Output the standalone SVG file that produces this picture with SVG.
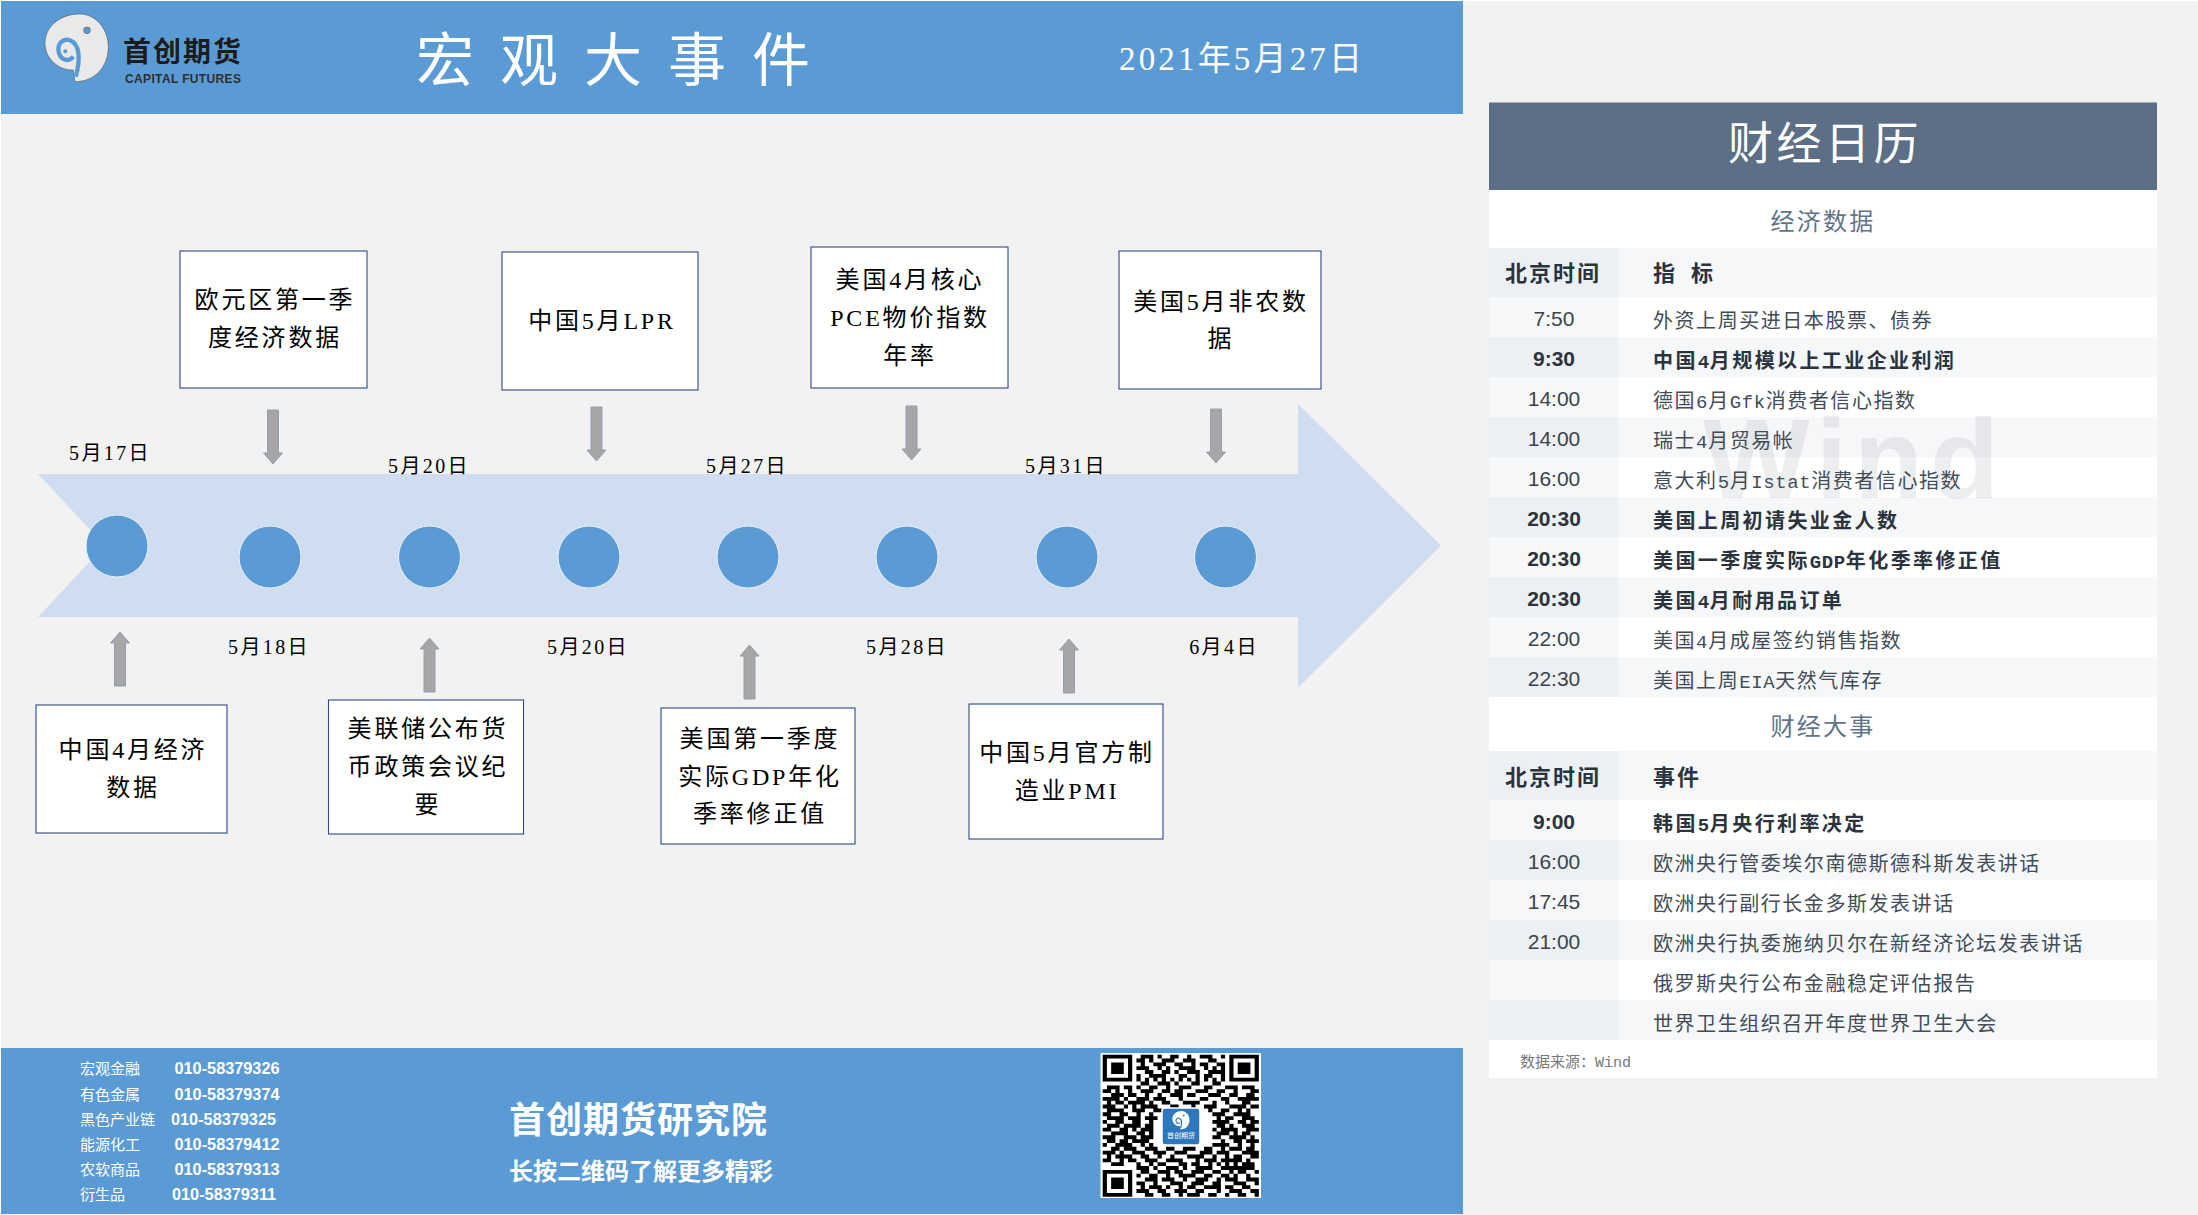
<svg xmlns="http://www.w3.org/2000/svg" xmlns:xlink="http://www.w3.org/1999/xlink" width="2198" height="1215" viewBox="0 0 2198 1215">
<style>
text{font-family:"Liberation Sans","Noto Sans CJK SC",sans-serif}
.s{font-family:"Liberation Serif","Noto Sans CJK SC",serif}
.box{fill:#fff;stroke:#2f4a86;stroke-width:1.1}
.bt{font-size:24px;letter-spacing:2.8px;text-anchor:middle;fill:#000}
.date{font-size:20px;letter-spacing:2.4px;text-anchor:middle;fill:#000}
.dot{fill:#5b9bd5;stroke:#eaf1f9;stroke-width:1}
.ar{fill:#a6a6a6;stroke:#93a0ae;stroke-width:1}
.t{font-size:21px;text-anchor:middle;fill:#3a444e}
.tb{font-size:21px;font-weight:bold;text-anchor:middle;fill:#2b343d}
.r{font-size:20px;letter-spacing:1.55px;fill:#434d57;font-family:"Noto Sans CJK SC",sans-serif}
.rb{font-size:20px;letter-spacing:2.4px;fill:#2b343d;font-weight:bold;font-family:"Noto Sans CJK SC",sans-serif}
.m{font-family:"Liberation Mono",monospace;font-size:19px;letter-spacing:.6px}
.h{font-size:22px;letter-spacing:2px;font-weight:bold;fill:#2b343d;font-family:"Noto Sans CJK SC",sans-serif}
.sec{font-size:24px;letter-spacing:2.2px;text-anchor:middle;fill:#5f7489;font-family:"Noto Sans CJK SC",sans-serif}
.a{fill:#f6f7f9}.b{fill:#eceff4}
.fn{font-size:15px;fill:#fff;font-family:"Noto Sans CJK SC",sans-serif}
.fp{font-size:16.300px;font-weight:bold;fill:#fff}
</style>
<defs>
<path id="ar" class="ar" d="M0 0L9.500 11H5.500V54H-5.500V11H-9.500Z"/>
</defs>
<rect width="2198" height="1215" fill="#fff"/>
<rect x="1" y="1" width="2197" height="1214" fill="#f2f2f2"/>

<g id="header">
<rect x="1" y="1" width="1462" height="113" fill="#5b9bd5"/>
<g id="logo">
<g transform="translate(40 10) scale(.3333)">
<path d="M105 215C165 215 205 170 205 110C205 55 165 12 120 12C60 12 15 50 15 100C15 145 55 182 100 180C102 192 103 205 105 215Z" fill="#e9e9e9" stroke="#444" stroke-width="1.500"/>
<path d="M107 200C122 150 120 100 88 90C65 85 52 105 56 125C60 150 85 158 100 140" fill="none" stroke="#5b9bd5" stroke-width="13"/>
<circle cx="76" cy="124" r="6" fill="#5b9bd5"/>
<circle cx="141" cy="61" r="10" fill="#5b9bd5" stroke="#444" stroke-width="1.500"/>
</g>
<text x="123" y="62" font-size="28" font-weight="bold" fill="#1c1c1c" textLength="118" style="font-family:'Noto Sans CJK SC',sans-serif">首创期货</text>
<text x="125" y="83" font-size="12" font-weight="bold" fill="#2e2e2e" textLength="116">CAPITAL FUTURES</text>
</g>
<text id="title" x="416" y="81" font-size="58" fill="#fff" style="letter-spacing:26px;font-family:'Noto Sans CJK SC',sans-serif">宏观大事件</text>
<text class="s" x="1119" y="70" font-size="33" fill="#fff" textLength="243">2021年5月27日</text>
</g>

<g id="timeline">
<path d="M38 474H1298V404L1441 545.500L1298 688V617H38L105 545.500Z" fill="#d0dcef"/>
<circle class="dot" cx="117" cy="546" r="31"/>
<circle class="dot" cx="270" cy="557" r="31"/>
<circle class="dot" cx="429.500" cy="557" r="31"/>
<circle class="dot" cx="589" cy="557" r="31"/>
<circle class="dot" cx="748" cy="557" r="31"/>
<circle class="dot" cx="907" cy="557" r="31"/>
<circle class="dot" cx="1067" cy="557" r="31"/>
<circle class="dot" cx="1225.500" cy="557" r="31"/>
</g>

<g id="connectors">
<use xlink:href="#ar" href="#ar" transform="translate(273 464) rotate(180)"/>
<use xlink:href="#ar" href="#ar" transform="translate(596.500 461) rotate(180)"/>
<use xlink:href="#ar" href="#ar" transform="translate(911.500 460) rotate(180)"/>
<use xlink:href="#ar" href="#ar" transform="translate(1216 463) rotate(180)"/>
<use xlink:href="#ar" href="#ar" transform="translate(120 632)"/>
<use xlink:href="#ar" href="#ar" transform="translate(429.500 638)"/>
<use xlink:href="#ar" href="#ar" transform="translate(749.500 645)"/>
<use xlink:href="#ar" href="#ar" transform="translate(1069 639)"/>
</g>

<g id="dates">
<text class="date s" x="110" y="460">5月17日</text>
<text class="date s" x="429" y="473">5月20日</text>
<text class="date s" x="747" y="473">5月27日</text>
<text class="date s" x="1066" y="473">5月31日</text>
<text class="date s" x="269" y="654">5月18日</text>
<text class="date s" x="588" y="654">5月20日</text>
<text class="date s" x="907" y="654">5月28日</text>
<text class="date s" x="1224" y="654">6月4日</text>
</g>

<g id="node-eu">
<rect class="box" x="180" y="251" width="187" height="137"/>
<text class="bt s" x="275" y="307.500">欧元区第一季</text>
<text class="bt s" x="275" y="345.500">度经济数据</text>
</g>
<g id="node-lpr">
<rect class="box" x="502" y="252" width="196" height="138"/>
<text class="bt s" x="602" y="329">中国5月LPR</text>
</g>
<g id="node-pce">
<rect class="box" x="811" y="247" width="197" height="141"/>
<text class="bt s" x="910" y="287.500">美国4月核心</text>
<text class="bt s" x="910" y="325.500">PCE物价指数</text>
<text class="bt s" x="910" y="363.500">年率</text>
</g>
<g id="node-nfp">
<rect class="box" x="1119" y="251" width="202" height="138"/>
<text class="bt s" x="1221" y="309.500">美国5月非农数</text>
<text class="bt s" x="1221" y="346.500">据</text>
</g>
<g id="node-cn">
<rect class="box" x="36" y="705" width="191" height="128"/>
<text class="bt s" x="133" y="757.500">中国4月经济</text>
<text class="bt s" x="133" y="795.500">数据</text>
</g>
<g id="node-fomc">
<rect class="box" x="328.500" y="700" width="195" height="134"/>
<text class="bt s" x="428" y="736.500">美联储公布货</text>
<text class="bt s" x="428" y="774.500">币政策会议纪</text>
<text class="bt s" x="428" y="812.500">要</text>
</g>
<g id="node-gdp">
<rect class="box" x="661" y="708" width="194" height="136"/>
<text class="bt s" x="760" y="746.500">美国第一季度</text>
<text class="bt s" x="760" y="784.500">实际GDP年化</text>
<text class="bt s" x="760" y="821.500">季率修正值</text>
</g>
<g id="node-pmi">
<rect class="box" x="969" y="704" width="194" height="135"/>
<text class="bt s" x="1067" y="760.500">中国5月官方制</text>
<text class="bt s" x="1067" y="798.500">造业PMI</text>
</g>

<g id="calendar">
<rect x="1489" y="190" width="668" height="888" fill="#fff"/>
<rect x="1489" y="102.500" width="668" height="87.500" fill="#5c6f87"/>
<text x="1825" y="160" font-size="45" text-anchor="middle" fill="#fff" style="letter-spacing:3.500px;font-family:'Noto Sans CJK SC',sans-serif">财经日历</text>
<text class="sec" x="1823" y="230">经济数据</text>
<rect class="a" x="1489" y="248" width="668" height="49"/><rect class="b" x="1489" y="248" width="130" height="49"/>
<rect class="a" x="1489" y="297" width="130" height="40"/>
<rect class="a" x="1489" y="337" width="668" height="40"/><rect class="b" x="1489" y="337" width="130" height="40"/>
<rect class="a" x="1489" y="377" width="130" height="40"/>
<rect class="a" x="1489" y="417" width="668" height="40"/><rect class="b" x="1489" y="417" width="130" height="40"/>
<rect class="a" x="1489" y="457" width="130" height="40"/>
<rect class="a" x="1489" y="497" width="668" height="40"/><rect class="b" x="1489" y="497" width="130" height="40"/>
<rect class="a" x="1489" y="537" width="130" height="40"/>
<rect class="a" x="1489" y="577" width="668" height="40"/><rect class="b" x="1489" y="577" width="130" height="40"/>
<rect class="a" x="1489" y="617" width="130" height="40"/>
<rect class="a" x="1489" y="657" width="668" height="40"/><rect class="b" x="1489" y="657" width="130" height="40"/>
<text x="1703" y="498" font-size="113" font-weight="bold" fill="#8f959b" fill-opacity=".16" textLength="296">Wind</text>
<text class="sec" x="1823" y="735">财经大事</text>
<rect class="a" x="1489" y="751" width="668" height="49"/><rect class="b" x="1489" y="751" width="130" height="49"/>
<rect class="a" x="1489" y="800" width="130" height="40"/>
<rect class="a" x="1489" y="840" width="668" height="40"/><rect class="b" x="1489" y="840" width="130" height="40"/>
<rect class="a" x="1489" y="880" width="130" height="40"/>
<rect class="a" x="1489" y="920" width="668" height="40"/><rect class="b" x="1489" y="920" width="130" height="40"/>
<rect class="a" x="1489" y="960" width="130" height="40"/>
<rect class="a" x="1489" y="1000" width="668" height="40"/><rect class="b" x="1489" y="1000" width="130" height="40"/>

<text class="h" x="1505" y="281">北京时间</text>
<text class="h" x="1653" y="281">指<tspan dx="14">标</tspan></text>
<text class="t" x="1554" y="325.500">7:50</text><text class="r" x="1653" y="327.500">外资上周买进日本股票、债券</text>
<text class="tb" x="1554" y="366">9:30</text><text class="rb" x="1653" y="367.500">中国<tspan class="m">4</tspan>月规模以上工业企业利润</text>
<text class="t" x="1554" y="406">14:00</text><text class="r" x="1653" y="407.500">德国<tspan class="m">6</tspan>月<tspan class="m">Gfk</tspan>消费者信心指数</text>
<text class="t" x="1554" y="446">14:00</text><text class="r" x="1653" y="447.500">瑞士<tspan class="m">4</tspan>月贸易帐</text>
<text class="t" x="1554" y="486">16:00</text><text class="r" x="1653" y="487.500">意大利<tspan class="m">5</tspan>月<tspan class="m">Istat</tspan>消费者信心指数</text>
<text class="tb" x="1554" y="526">20:30</text><text class="rb" x="1653" y="527.500">美国上周初请失业金人数</text>
<text class="tb" x="1554" y="566">20:30</text><text class="rb" x="1653" y="567.500">美国一季度实际<tspan class="m">GDP</tspan>年化季率修正值</text>
<text class="tb" x="1554" y="606">20:30</text><text class="rb" x="1653" y="607.500">美国<tspan class="m">4</tspan>月耐用品订单</text>
<text class="t" x="1554" y="646">22:00</text><text class="r" x="1653" y="647.500">美国<tspan class="m">4</tspan>月成屋签约销售指数</text>
<text class="t" x="1554" y="686">22:30</text><text class="r" x="1653" y="687.500">美国上周<tspan class="m">EIA</tspan>天然气库存</text>

<text class="h" x="1505" y="785">北京时间</text>
<text class="h" x="1653" y="785">事件</text>
<text class="tb" x="1554" y="829">9:00</text><text class="rb" x="1653" y="830.500">韩国<tspan class="m">5</tspan>月央行利率决定</text>
<text class="t" x="1554" y="869">16:00</text><text class="r" x="1653" y="870.500">欧洲央行管委埃尔南德斯德科斯发表讲话</text>
<text class="t" x="1554" y="909">17:45</text><text class="r" x="1653" y="910.500">欧洲央行副行长金多斯发表讲话</text>
<text class="t" x="1554" y="949">21:00</text><text class="r" x="1653" y="950.500">欧洲央行执委施纳贝尔在新经济论坛发表讲话</text>
<text class="r" x="1653" y="990.500">俄罗斯央行公布金融稳定评估报告</text>
<text class="r" x="1653" y="1030.500">世界卫生组织召开年度世界卫生大会</text>
<text x="1520" y="1067" font-size="15" fill="#77797c" style="font-family:'Noto Sans CJK SC',sans-serif">数据来源：<tspan style="font-family:'Liberation Mono',monospace">Wind</tspan></text>
</g>

<g id="footer">
<rect x="1" y="1048" width="1462" height="166" fill="#5b9bd5"/>
<text class="fn" x="80" y="1074">宏观金融</text><text class="fp" x="174.500" y="1074">010-58379326</text>
<text class="fn" x="80" y="1100">有色金属</text><text class="fp" x="174.500" y="1100">010-58379374</text>
<text class="fn" x="80" y="1125">黑色产业链</text><text class="fp" x="171" y="1125">010-58379325</text>
<text class="fn" x="80" y="1150">能源化工</text><text class="fp" x="174.500" y="1150">010-58379412</text>
<text class="fn" x="80" y="1175">农软商品</text><text class="fp" x="174.500" y="1175">010-58379313</text>
<text class="fn" x="80" y="1200">衍生品</text><text class="fp" x="172" y="1200">010-58379311</text>
<text x="509" y="1132.500" font-size="36" font-weight="bold" fill="#fff" style="letter-spacing:1px;font-family:'Noto Sans CJK SC',sans-serif">首创期货研究院</text>
<text x="509" y="1180" font-size="24" font-weight="bold" fill="#fff" style="font-family:'Noto Sans CJK SC',sans-serif">长按二维码了解更多精彩</text>
</g>

<g id="qr">
<rect x="1100.500" y="1053" width="160.500" height="145" fill="#fff"/>
<g transform="translate(1102.700 1054.700) scale(4.220 3.840)">
<path fill="none" stroke="#000" d="M.5 .5h6v6h-6zM30.500 .5h6v6h-6zM.5 30.500h6v6h-6z"/>
<path d="M2 2h3v3h-3zM32 2h3v3h-3zM2 32h3v3h-3z"/>
<path fill="none" stroke="#000" d="M9 .5h3M13 .5h1M16 .5h2M20 .5h1M23 .5h3M28 .5h1
M8 1.500h2M11 1.500h1M14 1.500h3M19 1.500h3M25 1.500h2
M9 2.500h1M12 2.500h3M17 2.500h2M21 2.500h1M23 2.500h2M27 2.500h2
M8 3.500h3M13 3.500h1M15 3.500h1M18 3.500h4M24 3.500h1M26 3.500h1M28 3.500h1
M10 4.500h2M14 4.500h2M17 4.500h1M20 4.500h3M25 4.500h4
M8 5.500h1M11 5.500h4M18 5.500h2M22 5.500h1M24 5.500h2M28 5.500h1
M8 6.500h1M10 6.500h1M12 6.500h1M14 6.500h1M16 6.500h1M18 6.500h1M20 6.500h1M22 6.500h1M24 6.500h1M26 6.500h1M28 6.500h1
M9 7.500h2M13 7.500h3M17 7.500h1M21 7.500h2M26 7.500h2
M1 8.500h3M5 8.500h2M8 8.500h1M11 8.500h2M15 8.500h1M18 8.500h3M24 8.500h2M29 8.500h3M33 8.500h3
M0 9.500h2M3 9.500h1M6 9.500h1M9 9.500h3M14 9.500h2M17 9.500h2M22 9.500h3M27 9.500h2M31 9.500h1M35 9.500h2
M2 10.500h3M6 10.500h2M10 10.500h1M13 10.500h1M16 10.500h3M20 10.500h2M25 10.500h3M30 10.500h2M34 10.500h2
M0 11.500h4M5 11.500h1M8 11.500h3M12 11.500h3M18 11.500h1M23 11.500h2M28 11.500h2M32 11.500h5
M1 12.500h1M3 12.500h2M6 12.500h4M11 12.500h1M14 12.500h2M19 12.500h4M26 12.500h1M29 12.500h1M33 12.500h2
M0 13.500h3M5 13.500h1M7 13.500h1M9 13.500h4M16 13.500h2M21 13.500h1M24 13.500h3M30 13.500h4M35 13.500h2
M1 14.500h4M7 14.500h3M12 14.500h2M18 14.500h4M25 14.500h1M28 14.500h2M32 14.500h1M34 14.500h1
M0 15.500h2M4 15.500h2M8 15.500h1M11 15.500h1M26 15.500h3M31 15.500h4
M1 16.500h4M6 16.500h3M10 16.500h3M27 16.500h1M29 16.500h2M33 16.500h3
M0 17.500h1M3 17.500h2M7 17.500h2M11 17.500h1M26 17.500h4M32 17.500h2M35 17.500h2
M1 18.500h3M5 18.500h4M10 18.500h2M27 18.500h2M30 18.500h1M33 18.500h3
M0 19.500h2M4 19.500h2M7 19.500h1M9 19.500h3M26 19.500h1M28 19.500h4M34 19.500h3
M2 20.500h4M8 20.500h2M11 20.500h1M27 20.500h3M31 20.500h1M33 20.500h2
M0 21.500h3M5 21.500h3M9 21.500h3M26 21.500h2M30 21.500h4M35 21.500h1
M1 22.500h2M4 22.500h2M7 22.500h4M28 22.500h1M31 22.500h2M34 22.500h3
M0 23.500h1M3 23.500h4M9 23.500h1M11 23.500h1M26 23.500h4M32 23.500h1M35 23.500h1
M2 24.500h2M5 24.500h3M10 24.500h3M15 24.500h2M19 24.500h3M24 24.500h2M28 24.500h1M30 24.500h3M34 24.500h2
M0 25.500h3M4 25.500h1M7 25.500h3M12 25.500h3M17 25.500h3M23 25.500h3M27 25.500h3M33 25.500h4
M1 26.500h1M3 26.500h4M9 26.500h2M13 26.500h1M16 26.500h1M20 26.500h4M26 26.500h1M29 26.500h1M31 26.500h2M35 26.500h2
M0 27.500h2M4 27.500h1M6 27.500h2M10 27.500h3M15 27.500h4M22 27.500h1M24 27.500h3M28 27.500h5M34 27.500h1
M2 28.500h3M8 28.500h1M11 28.500h1M13 28.500h2M18 28.500h2M21 28.500h2M25 28.500h1M27 28.500h1M29 28.500h1M31 28.500h1M33 28.500h3
M8 29.500h3M12 29.500h1M15 29.500h3M19 29.500h1M22 29.500h4M28 29.500h8
M9 30.500h2M13 30.500h3M17 30.500h2M21 30.500h3M26 30.500h2M30 30.500h1M32 30.500h2M36 30.500h1
M8 31.500h1M11 31.500h2M15 31.500h1M18 31.500h4M24 31.500h2M28 31.500h2M31 31.500h1M34 31.500h1
M10 32.500h3M14 32.500h3M19 32.500h1M22 32.500h3M27 32.500h1M29 32.500h3M34 32.500h3
M8 33.500h2M12 33.500h1M16 33.500h3M21 33.500h3M26 33.500h2M31 33.500h3M36 33.500h1
M9 34.500h1M11 34.500h3M15 34.500h1M18 34.500h1M20 34.500h2M24 34.500h4M29 34.500h2M33 34.500h2
M8 35.500h3M13 35.500h2M17 35.500h3M22 35.500h2M27 35.500h1M30 35.500h3M35 35.500h2
M10 36.500h2M14 36.500h2M18 36.500h1M20 36.500h3M25 36.500h2M29 36.500h1M32 36.500h2M36 36.500h1"/>
</g>
<rect x="1162" y="1108" width="38" height="37" rx="3" fill="#2d78bd" stroke="#fff" stroke-width="1.500"/>
<g transform="translate(1171 1110) scale(.09)">
<path d="M105 215C165 215 205 170 205 110C205 55 165 12 120 12C60 12 15 50 15 100C15 145 55 182 100 180C102 192 103 205 105 215Z" fill="#fff"/>
<path d="M107 200C122 150 120 100 88 90C65 85 52 105 56 125C60 150 85 158 100 140" fill="none" stroke="#2d78bd" stroke-width="13"/>
<circle cx="141" cy="61" r="10" fill="#2d78bd"/>
</g>
<text x="1181" y="1138" font-size="7" fill="#fff" text-anchor="middle" style="font-family:'Noto Sans CJK SC',sans-serif">首创期货</text>
</g>
</svg>
